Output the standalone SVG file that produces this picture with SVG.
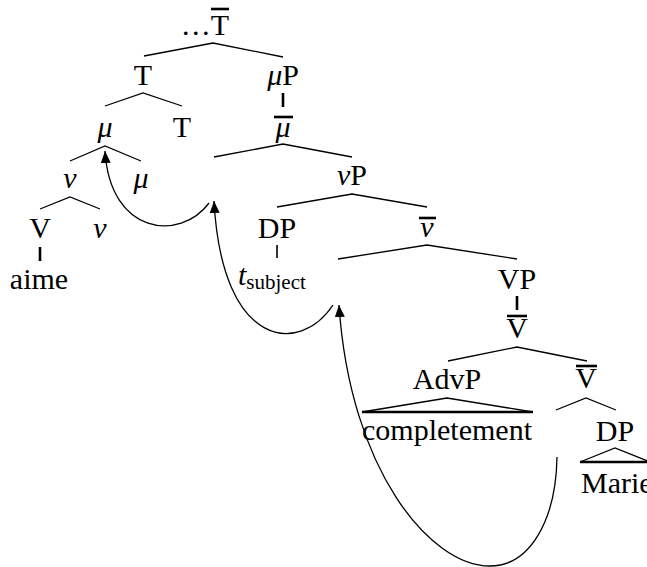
<svg xmlns="http://www.w3.org/2000/svg" width="647" height="567" viewBox="0 0 647 567">
<defs>
<style>
text{font-family:"Liberation Serif","Times New Roman",serif;font-size:30px;fill:#000}
.m{text-anchor:middle}
.i{font-style:italic}
.sub{font-size:21px}
.ln{stroke:#000;stroke-width:1.3;fill:none}
.bar{stroke:#000;stroke-width:2.6;fill:none}
.thin{stroke:#000;stroke-width:1.6;fill:none}
.arr{stroke:#000;stroke-width:1.3;fill:none;marker-end:url(#ah)}
</style>
<marker id="ah" viewBox="0 0 12 10" refX="12" refY="5" markerWidth="12" markerHeight="10" markerUnits="userSpaceOnUse" orient="auto">
<path d="M0,0 L12,5 L0,10 z" fill="#000"/>
</marker>
</defs>
<rect width="647" height="567" fill="#fff"/>
<g id="connectors">
<polyline class="ln" points="144,56 213,43 283,57"/>
<polyline class="ln" points="105,106 143,93 182,106"/>
<line class="bar" x1="283" y1="93" x2="283" y2="107"/>
<polyline class="ln" points="70,161 105,146 141,161"/>
<polyline class="ln" points="214,157 283,144 352,157"/>
<polyline class="ln" points="40,209 70,197 100,209"/>
<polyline class="ln" points="277,207 352,194 427,207"/>
<line class="bar" x1="40" y1="247" x2="40" y2="261"/>
<line class="thin" x1="277" y1="245" x2="277" y2="258"/>
<polyline class="ln" points="338,259 427,245 517,259"/>
<line class="bar" x1="517" y1="296" x2="517" y2="310"/>
<polyline class="ln" points="448,361 517,347 587,361"/>
<polyline class="ln" points="362,412 447,398 533,412"/>
<line class="bar" x1="362" y1="412" x2="533" y2="412"/>
<polyline class="ln" points="556,410 586,398 616,410"/>
<polyline class="ln" points="580,462 615,448 650,462"/>
<line class="bar" x1="580" y1="462" x2="650" y2="462"/>
<path class="arr" d="M209,203 C180,242 110,235 105,151"/>
<path class="arr" d="M333,305 C300,355 222,350 214,201"/>
<path class="arr" d="M557,457 C556,520 530,566 490,566 C430,566 350,470 339,305"/>
</g>
<g id="n-tbar-top"><text x="229" y="35" text-anchor="end">…T</text><line class="bar" x1="211" y1="9" x2="229" y2="9"/></g>
<g id="n-T1"><text class="m" x="143" y="85">T</text></g>
<g id="n-muP"><text class="m" x="283" y="85"><tspan class="i">μ</tspan>P</text></g>
<g id="n-mubar"><text class="m i" x="283" y="137">μ</text><line class="bar" x1="274" y1="117" x2="293" y2="117"/></g>
<g id="n-mu1"><text class="m i" x="105" y="137">μ</text></g>
<g id="n-T2"><text class="m" x="182" y="137">T</text></g>
<g id="n-nu1"><text class="m i" x="70" y="188">ν</text></g>
<g id="n-mu2"><text class="m i" x="141" y="188">μ</text></g>
<g id="n-nuP"><text class="m" x="352" y="185"><tspan class="i">ν</tspan>P</text></g>
<g id="n-V1"><text class="m" x="40" y="238">V</text></g>
<g id="n-nu2"><text class="m i" x="100" y="238">ν</text></g>
<g id="n-DP1"><text class="m" x="277" y="238">DP</text></g>
<g id="n-nubar"><text class="m i" x="427" y="237">ν</text><line class="bar" x1="419" y1="218" x2="436" y2="218"/></g>
<g id="n-aime"><text class="m" x="39" y="289">aime</text></g>
<g id="n-tsubj"><text x="238" y="285"><tspan class="i">t</tspan><tspan class="sub" dy="4">subject</tspan></text></g>
<g id="n-VP"><text class="m" x="517" y="289">VP</text></g>
<g id="n-Vbar1"><text class="m" x="517" y="338">V</text><line class="bar" x1="507" y1="316" x2="527" y2="316"/></g>
<g id="n-AdvP"><text class="m" x="447" y="389">AdvP</text></g>
<g id="n-Vbar2"><text class="m" x="586" y="388">V</text><line class="bar" x1="576" y1="366" x2="597" y2="366"/></g>
<g id="n-compl"><text class="m" x="447" y="440">completement</text></g>
<g id="n-DP2"><text class="m" x="615" y="441">DP</text></g>
<g id="n-Marie"><text x="581" y="493">Marie</text></g>
</svg>
